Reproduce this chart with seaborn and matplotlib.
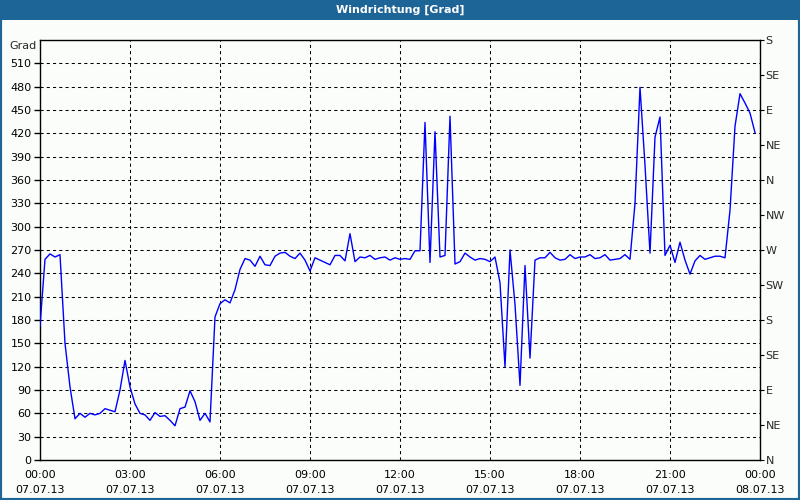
import numpy as np
import pandas as pd
import seaborn as sns
import matplotlib.pyplot as plt
import matplotlib.dates as mdates
from matplotlib.patches import Rectangle

# wind direction, 10-minute samples, 07.07.13 00:00 .. 23:50
wind_deg = [
    172, 258, 265, 261, 264, 150, 94, 53, 60, 55,
    60, 58, 60, 66, 64, 62, 90, 128, 94, 72,
    60, 58, 51, 61, 56, 57, 51, 44, 66, 68,
    89, 75, 51, 60, 49, 184, 201, 206, 202, 219,
    245, 259, 257, 249, 262, 251, 250, 262, 266, 267,
    262, 259, 266, 257, 243, 260, 257, 254, 251, 263,
    263, 256, 291, 255, 261, 260, 263, 258, 260, 261,
    257, 260, 258, 259, 258, 269, 269, 434, 254, 422,
    261, 263, 442, 252, 255, 266, 261, 257, 259, 258,
    255, 261, 228, 120, 270, 200, 96, 250, 131, 257,
    260, 260, 267, 260, 257, 258, 264, 259, 261, 261,
    264, 259, 260, 264, 257, 258, 259, 264, 258, 330,
    479, 379, 266, 415, 441, 263, 276, 254, 280, 257,
    239, 256, 263, 258, 260, 262, 262, 260, 321, 429,
    471, 459, 446, 421,
]
left_ticks = list(range(0, 540, 30))
compass_ticks = list(range(0, 541, 45))
compass_labels = ["N", "NE", "E", "SE", "S", "SW", "W", "NW", "N", "NE", "E", "SE", "S"]

times = pd.date_range("2013-07-07 00:00", periods=len(wind_deg), freq="10min")
df = pd.DataFrame({"time": times, "deg": wind_deg})

BG = "#fbfdfb"
BAR = "#1d6497"

sns.set_style("white")
plt.rcParams["font.family"] = ["DejaVu Sans"]
plt.rcParams["font.size"] = 8

fig = plt.figure(figsize=(8, 5), dpi=100, facecolor=BG)
ax = fig.add_axes([0.05, 0.08, 0.9, 0.84], facecolor=BG)

sns.lineplot(data=df, x="time", y="deg", color="#0000ff", lw=1.0, ax=ax, zorder=3)

ax.set_xlim(pd.Timestamp("2013-07-07 00:00"), pd.Timestamp("2013-07-08 00:00"))
ax.set_ylim(0, 540)
ax.set_yticks(left_ticks)
ax.set_xlabel("")
ax.set_ylabel("")

ax.xaxis.set_major_locator(mdates.HourLocator(byhour=range(0, 24, 3)))
ax.xaxis.set_minor_locator(mdates.HourLocator())
ax.xaxis.set_major_formatter(mdates.DateFormatter("%H:%M\n%d.%m.%y"))

ax.grid(True, which="major", color="black", lw=0.75, ls=(0, (3, 3)), zorder=1)
ax.tick_params(axis="both", which="both", direction="out", color="black",
               labelcolor="black", labelsize=8, width=1)
ax.tick_params(axis="y", length=4, pad=2)
ax.tick_params(axis="x", which="major", length=4, pad=3)
ax.tick_params(axis="x", which="minor", length=4)
for t in ax.get_xticklabels():
    t.set_linespacing(1.6)

for s in ax.spines.values():
    s.set_color("black")
    s.set_linewidth(1)
    s.set_visible(True)

ax2 = ax.twinx()
ax2.set_ylim(0, 540)
ax2.set_yticks(compass_ticks)
ax2.set_yticklabels(compass_labels)
ax2.tick_params(axis="y", direction="out", length=3, pad=1, labelsize=8, color="black")
for s in ax2.spines.values():
    s.set_visible(False)

fig.text(0.046, 1 - 46 / 500, "Grad", ha="right", va="center", fontsize=8)

# title bar and frame
fig.patches.append(Rectangle((0, 1 - 20 / 500), 1, 20 / 500, transform=fig.transFigure,
                             facecolor=BAR, edgecolor="none", zorder=0))
fig.patches.append(Rectangle((0, 0), 1, 1, transform=fig.transFigure, fill=False,
                             edgecolor=BAR, lw=3, zorder=5))
fig.text(0.5, 1 - 10 / 500, "Windrichtung [Grad]", ha="center", va="center",
         color="white", fontsize=8, fontweight="bold")

fig.savefig("out.png", dpi=100, facecolor=BG)
